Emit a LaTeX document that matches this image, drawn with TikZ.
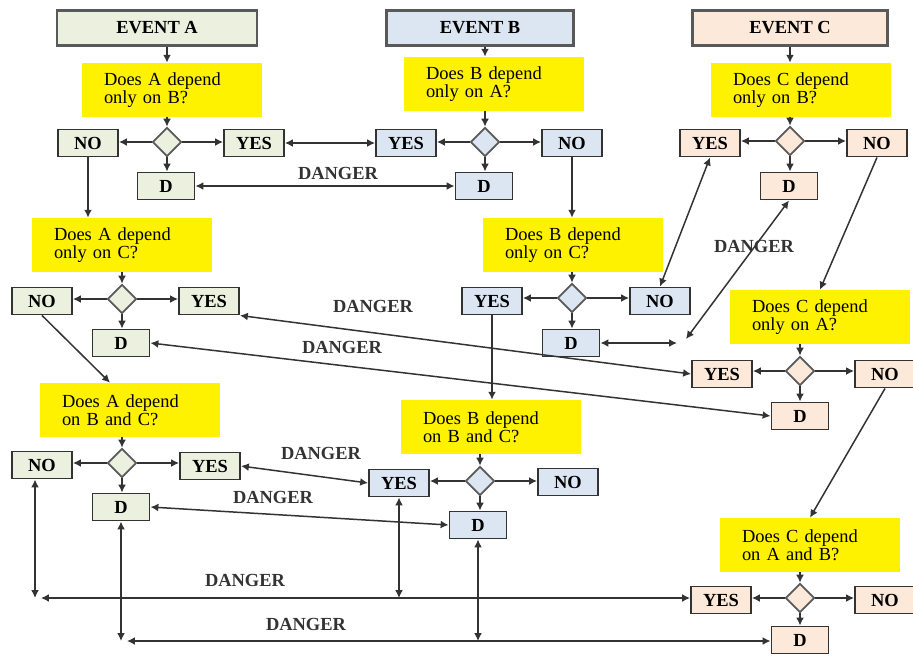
\documentclass[tikz,border=0pt]{standalone}
\usepackage{fontspec}
\setmainfont{Liberation Serif}
\usetikzlibrary{arrows.meta, shapes.geometric}
\definecolor{colA}{HTML}{EBF1DE}
\definecolor{colB}{HTML}{DCE6F2}
\definecolor{colC}{HTML}{FDE9D9}
\definecolor{edge}{HTML}{333333}

\begin{document}
\begin{tikzpicture}[x=0.02cm, y=-0.02cm,
	box/.style={draw=edge, line width=1.1pt, minimum height=0.54cm, inner sep=1pt, font=\fontsize{10.5}{12}\selectfont\bfseries},
	sbox/.style={box, minimum width=1.2cm},
	dbox/.style={box, minimum width=1.14cm},
	evbox/.style={box, draw=black!65, line width=1.3pt, minimum height=0.7cm},
	qbox/.style={fill=yellow, inner xsep=0.44cm, inner ysep=0pt, text width=2.72cm, minimum height=1.08cm, align=left, font=\fontsize{10.5}{9.5}\selectfont},
	dia/.style={diamond, draw=black!65, line width=1pt, inner sep=0pt, minimum width=0.58cm, minimum height=0.58cm},
	arr/.style={-{Latex[length=4.5pt,width=4.5pt]}, draw=edge, line width=0.85pt},
	dbl/.style={{Latex[length=4.5pt,width=4.5pt]}-{Latex[length=4.5pt,width=4.5pt]}, draw=edge, line width=0.85pt},
	lbl/.style={font=\fontsize{10.5}{12}\selectfont\bfseries, text=edge}]
	\useasboundingbox (0,0) rectangle (913,657);

	\node[evbox, fill=colA, minimum width=4cm] (eva) at (157,28) {EVENT A};
	\node[evbox, fill=colB, minimum width=3.74cm] (evb) at (480,28) {EVENT B};
	\node[evbox, fill=colC, minimum width=3.9cm] (evc) at (790,28) {EVENT C};

	\foreach \nm/\x/\y/\t in {qa1/172/90/{Does A depend\\only on B?}, qb1/494/84/{Does B depend\\only on A?},
		qc1/801/90/{Does C depend\\only on B?}, qa2/122/245/{Does A depend\\only on C?},
		qb2/573/245/{Does B depend\\only on C?}, qc2/820/317/{Does C depend\\only on A?},
		qa3/130/410/{Does A depend\\on B and C?}, qb3/491/427/{Does B depend\\on B and C?},
		qc3/810/545/{Does C depend\\on A and B?}}
		\node[qbox] (\nm) at (\x,\y) {\t};

	\foreach \nm/\x/\y/\c in {dma1/167/142/colA, dmb1/485/142/colB, dmc1/790/141/colC,
		dma2/122/299/colA, dmb2/572/298/colB, dmc2/800/371/colC,
		dma3/122/463/colA, dmb3/480/481/colB, dmc3/800/598/colC}
		\node[dia, fill=\c] (\nm) at (\x,\y) {};

	\foreach \nm/\x/\y/\t/\c in {noa1/88/143/NO/colA, yesa1/254/143/YES/colA,
		yesb1/406/143/YES/colB, nob1/572/143/NO/colB,
		yesc1/710/143/YES/colC, noc1/877/143/NO/colC,
		noa2/42/301/NO/colA, yesa2/209/301/YES/colA,
		yesb2/492/301/YES/colB, nob2/660/301/NO/colB,
		yesc2/722/374/YES/colC, noc2/885/374/NO/colC,
		noa3/42/465/NO/colA, yesa3/210/466/YES/colA,
		yesb3/399/483/YES/colB, nob3/568/482/NO/colB,
		yesc3/721/600/YES/colC, noc3/885/600/NO/colC}
		\node[sbox, fill=\c] (\nm) at (\x,\y) {\t};

	\foreach \nm/\x/\y/\c in {da1/166/186/colA, db1/484/186/colB, dc1/789/186/colC,
		da2/121/343/colA, db2/571/343/colB, dc2/800/416/colC,
		da3/121/507/colA, db3/478/525/colB, dc3/800/640/colC}
		\node[dbox, fill=\c] (\nm) at (\x,\y) {D};

	\foreach \e/\u in {eva/a1, evb/b1, evc/c1}
		\draw[arr] (\e.south -| dm\u) -- (q\u.north -| dm\u);

	\foreach \u/\l/\r in {a1/no/yes, a2/no/yes, a3/no/yes, b1/yes/no, b2/yes/no, b3/yes/no, c1/yes/no, c2/yes/no, c3/yes/no}
	{
		\draw[arr] (q\u.south -| dm\u) -- (dm\u.north);
		\draw[arr] (dm\u.west) -- (dm\u.west -| \l\u.east);
		\draw[arr] (dm\u.east) -- (dm\u.east -| \r\u.west);
		\draw[arr] (dm\u.south) -- (dm\u.south |- d\u.north);
	}

	\draw[arr] (noa1.south) -- (noa1.south |- qa2.north);
	\draw[arr] (noa2.south) -- ([xshift=-0.4cm]qa3.north);
	\draw[arr] (nob1.south) -- (nob1.south |- qb2.north);
	\draw[arr, line width=1.3pt] (yesb2.south) -- (yesb2.south |- qb3.north);
	\draw[arr] (noc1.south) -- (qc2.north);
	\draw[arr] (noc2.south) -- (qc3.north);

	\coordinate (k1) at (677,343);
	\coordinate (k2) at (686,339);
	\coordinate (k3) at (35,598);
	\coordinate (k4) at (121,641);

	\draw[dbl] (yesa1.east) -- (yesa1.east -| yesb1.west);
	\draw[dbl] (da1.east) -- (db1.west);
	\draw[dbl] (nob2.north) -- (yesc1.south);
	\draw[dbl] (db2.east) -- (k1);
	\draw[dbl] (k2) -- (dc1.south);
	\draw[dbl] (yesa2.south east) -- (yesc2.west);
	\draw[dbl] (da2.east) -- (dc2.west);
	\draw[dbl] (yesa3.east) -- (yesb3.west);
	\draw[dbl] (da3.east) -- (db3.west);
	\draw[dbl] (k3 |- noa3.south) -- (k3);
	\draw[dbl] (yesb3.south) -- (yesb3.south |- k3);
	\draw[dbl] ([xshift=0.12cm]k3) -- (k3 -| yesc3.west);
	\draw[dbl] (da3.south) -- (da3.south |- k4);
	\draw[dbl] (db3.south) -- (db3.south |- k4);
	\draw[dbl] ([xshift=0.12cm]k4) -- (k4 -| dc3.west);

	\foreach \nm/\x/\y in {l1/338/173, l2/754/246, l3/373/306, l4/342/347, l5/321/453, l6/273/497, l7/245/580, l8/306/624}
		\node[lbl] (\nm) at (\x,\y) {DANGER};
\end{tikzpicture}
\end{document}
